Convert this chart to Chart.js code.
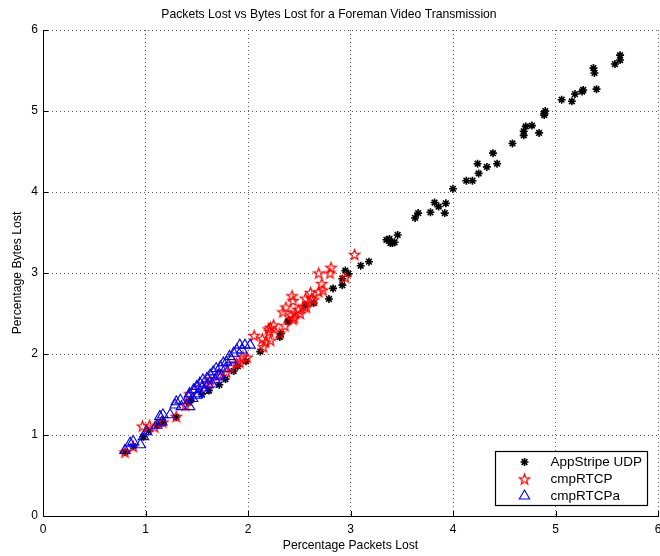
<!DOCTYPE html>
<html>
<head>
<meta charset="utf-8">
<title>Packets Lost vs Bytes Lost</title>
<script src="https://cdn.jsdelivr.net/npm/chart.js@4/dist/chart.umd.min.js"></script>
<style>
  html, body { margin: 0; padding: 0; background: #fff; }
  #wrap { width: 660px; height: 556px; }
</style>
</head>
<body>
<div id="wrap"><canvas id="lossChart" width="660" height="556"></canvas></div>
<script>
/* ── data: percentage packets lost (x) vs percentage bytes lost (y) ── */
const udpPkts = [5.63,5.63,5.58,5.37,5.38,5.40,5.27,5.26,5.19,5.16,5.06,4.90,4.89,4.89,4.77,4.71,4.69,4.69,4.84,4.58,
                 4.39,4.43,4.24,4.33,4.25,4.13,4.19,4.00,3.82,3.86,3.93,3.92,3.78,3.66,3.63,3.46,3.35,3.38,3.39,3.43,
                 3.41,3.18,3.10,2.95,2.92,2.92,2.98,2.83,2.79,2.64,2.56,2.40,2.39,2.32,2.31,2.12,1.98,1.86,1.78,1.44,
                 1.30,1.11,1.03,0.98,0.88,0.80,1.62,1.72,1.42,1.17,1.90,1.55];
const udpBytes = [5.69,5.63,5.58,5.53,5.47,5.27,5.26,5.24,5.21,5.12,5.14,5.00,4.97,4.95,4.82,4.81,4.75,4.70,4.73,4.60,
                  4.48,4.35,4.35,4.31,4.23,4.14,4.14,4.04,3.87,3.82,3.86,3.74,3.75,3.74,3.68,3.47,3.41,3.42,3.37,3.38,
                  3.37,3.14,3.09,3.03,2.93,2.85,2.99,2.81,2.68,2.63,2.60,2.41,2.40,2.25,2.21,2.03,1.91,1.79,1.69,1.43,
                  1.22,1.12,1.05,0.98,0.86,0.79,1.55,1.62,1.40,1.15,1.85,1.50];

const rtcpPkts = [3.04,2.81,2.80,2.69,2.95,2.72,2.73,2.69,2.61,2.64,2.62,2.56,2.43,2.44,2.57,2.55,2.37,2.49,2.46,2.51,
                  2.34,2.42,2.44,2.45,2.36,2.25,2.22,2.20,2.21,2.31,2.14,2.22,2.17,2.06,2.15,1.95,1.99,1.89,1.83,1.92,
                  1.79,1.71,1.63,1.60,1.52,1.43,1.39,1.30,1.17,1.09,0.97,1.04,0.88,0.80];
const rtcpBytes = [3.23,3.07,3.00,3.00,2.95,2.87,2.79,2.77,2.76,2.67,2.69,2.69,2.72,2.66,2.58,2.59,2.58,2.55,2.51,2.50,
                   2.52,2.48,2.43,2.45,2.35,2.36,2.33,2.31,2.28,2.26,2.19,2.17,2.15,2.23,2.09,1.97,1.96,1.89,1.84,1.90,
                   1.78,1.74,1.68,1.64,1.58,1.51,1.37,1.23,1.16,1.10,1.11,1.12,0.86,0.79];

const rtcpaPkts = [1.92,1.97,2.02,1.89,1.86,1.94,1.82,1.79,1.84,1.76,1.73,1.69,1.78,1.66,1.63,1.71,1.60,1.68,1.56,1.53,
                   1.61,1.50,1.55,1.47,1.43,1.52,1.42,1.50,1.34,1.30,1.29,1.35,1.43,1.17,1.24,1.14,1.16,1.11,1.01,0.98,
                   0.88,0.95,0.85,0.80,1.65,1.74,1.58,1.46];
const rtcpaBytes = [2.11,2.11,2.11,2.05,2.01,2.05,1.97,1.90,1.93,1.89,1.84,1.82,1.82,1.78,1.74,1.74,1.70,1.68,1.68,1.64,
                    1.62,1.60,1.58,1.56,1.51,1.51,1.47,1.49,1.43,1.41,1.37,1.35,1.35,1.25,1.25,1.23,1.16,1.12,1.04,0.98,
                    0.92,0.88,0.90,0.81,1.63,1.72,1.55,1.45];

const seriesNames = ['AppStripe UDP', 'cmpRTCP', 'cmpRTCPa'];
const axisTicks = [0, 1, 2, 3, 4, 5, 6];

const FONT = "'Liberation Sans', Arial, Helvetica, sans-serif";

function toPoints(xs, ys) {
  return xs.map(function (x, i) { return { x: x, y: ys[i] }; });
}

// outlined five-point star marker, drawn once to an offscreen canvas
function pentagram(color, r) {
  const c = document.createElement('canvas');
  const s = Math.ceil(r * 2 + 4);
  c.width = s; c.height = s;
  const g = c.getContext('2d');
  const cx = s / 2, cy = s / 2 + 0.5, ri = r * 0.4;
  g.beginPath();
  for (let i = 0; i < 10; i++) {
    const a = -Math.PI / 2 + i * Math.PI / 5;
    const rr = i % 2 === 0 ? r : ri;
    const px = cx + rr * Math.cos(a), py = cy + rr * Math.sin(a);
    if (i === 0) g.moveTo(px, py); else g.lineTo(px, py);
  }
  g.closePath();
  g.strokeStyle = color;
  g.lineWidth = 1.2;
  g.stroke();
  return c;
}
const redStar = pentagram('#ff0000', 5.5);

/* ── inward tick marks on the left and bottom axes ── */
const innerTicks = {
  id: 'innerTicks',
  afterDatasetsDraw(chart) {
    const { ctx, chartArea: a, scales: { x, y } } = chart;
    ctx.save();
    ctx.strokeStyle = '#000';
    ctx.lineWidth = 1;
    ctx.beginPath();
    axisTicks.forEach(function (t) {
      const px = Math.round(x.getPixelForValue(t)) + 0.5;
      ctx.moveTo(px, a.bottom); ctx.lineTo(px, a.bottom - 5);
      const py = Math.round(y.getPixelForValue(t)) + 0.5;
      ctx.moveTo(a.left, py); ctx.lineTo(a.left + 5, py);
    });
    ctx.stroke();
    ctx.restore();
  }
};

/* ── boxed legend inset at the lower right of the plot ── */
const boxLegend = {
  id: 'boxLegend',
  afterDraw(chart) {
    const { ctx, chartArea: a } = chart;
    const w = 152, h = 54;
    const bx = a.right - w - 10.5, by = a.bottom - h - 10.5;
    ctx.save();
    ctx.fillStyle = '#fff';
    ctx.fillRect(bx, by, w, h);
    ctx.strokeStyle = '#000';
    ctx.lineWidth = 1.2;
    ctx.strokeRect(bx, by, w, h);
    ctx.font = '13.5px ' + FONT;
    ctx.textBaseline = 'middle';
    const rows = [by + 10.5, by + 27.5, by + 44.5];
    chart.data.datasets.forEach(function (ds, i) {
      const mx = bx + 29, my = rows[i];
      ctx.save();
      ctx.fillStyle = ds.backgroundColor;
      ctx.strokeStyle = ds.borderColor;
      ctx.lineWidth = ds.borderWidth;
      Chart.helpers.drawPoint(ctx, {
        pointStyle: ds.pointStyle, radius: ds.pointRadius, rotation: 0,
        borderWidth: ds.borderWidth
      }, mx, my);
      ctx.restore();
      ctx.fillStyle = '#000';
      ctx.fillText(ds.label, bx + 55, my + 0.5);
    });
    ctx.restore();
  }
};

const gridCommon = {
  color: 'rgba(0,0,0,0.65)',
  lineWidth: 1,
  drawTicks: false
};

new Chart(document.getElementById('lossChart'), {
  type: 'scatter',
  data: {
    datasets: [
      {
        label: seriesNames[0], data: toPoints(udpPkts, udpBytes),
        pointStyle: 'star', pointRadius: 4, borderWidth: 1.6,
        borderColor: '#000', backgroundColor: '#000', order: 3
      },
      {
        label: seriesNames[1], data: toPoints(rtcpPkts, rtcpBytes),
        pointStyle: redStar, pointRadius: 5.5, borderWidth: 1,
        borderColor: '#ff0000', backgroundColor: 'rgba(0,0,0,0)', order: 2
      },
      {
        label: seriesNames[2], data: toPoints(rtcpaPkts, rtcpaBytes),
        pointStyle: 'triangle', pointRadius: 6, borderWidth: 1.1,
        borderColor: '#0000ff', backgroundColor: 'rgba(0,0,0,0)', order: 1
      }
    ]
  },
  options: {
    responsive: false,
    animation: false,
    layout: { autoPadding: false, padding: { left: 0, right: 2, top: 0, bottom: 0 } },
    plugins: {
      legend: { display: false },
      tooltip: { enabled: false },
      title: {
        display: true,
        text: 'Packets Lost vs Bytes Lost for a Foreman Video Transmission',
        color: '#000',
        font: { family: FONT, size: 12.2, weight: 'normal' },
        padding: { top: 7, bottom: 8.4 }
      }
    },
    scales: {
      x: {
        type: 'linear', min: 0, max: 6,
        afterBuildTicks(s) { s.ticks = axisTicks.map(function (v) { return { value: v }; }); },
        afterFit(s) { s.height = 40; s.paddingLeft = 0; s.paddingRight = 0; },
        grid: gridCommon,
        border: { display: true, color: '#000', width: 1, dash: [1, 3] },
        ticks: { color: '#000', padding: 6, font: { family: FONT, size: 12 }, maxRotation: 0 },
        title: {
          display: true, text: 'Percentage Packets Lost', color: '#000',
          font: { family: FONT, size: 12.2 }, padding: { top: 0, bottom: 3 }
        }
      },
      y: {
        type: 'linear', min: 0, max: 6,
        afterBuildTicks(s) { s.ticks = axisTicks.map(function (v) { return { value: v }; }); },
        afterFit(s) { s.width = 43; s.paddingTop = 0; s.paddingBottom = 0; },
        grid: gridCommon,
        border: { display: true, color: '#000', width: 1, dash: [1, 3] },
        ticks: { color: '#000', padding: 5, font: { family: FONT, size: 12 } },
        title: {
          display: true, text: 'Percentage Bytes Lost', color: '#000',
          font: { family: FONT, size: 12.2 }, padding: { top: 10, bottom: 0 }
        }
      }
    }
  },
  plugins: [innerTicks, boxLegend]
});
</script>
</body>
</html>
